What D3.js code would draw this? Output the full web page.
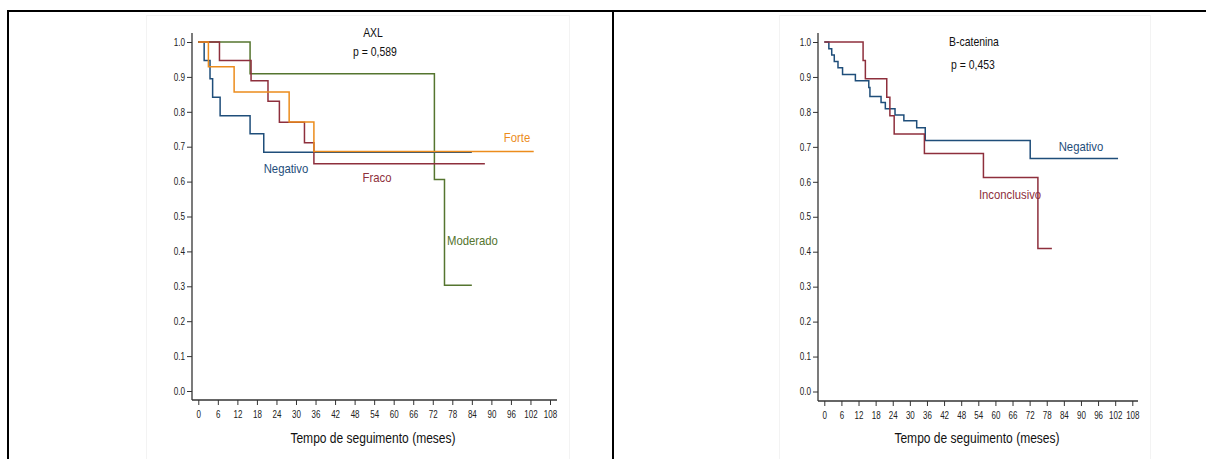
<!DOCTYPE html>
<html>
<head>
<meta charset="utf-8">
<script src="https://cdn.jsdelivr.net/npm/d3@7"></script>
<style>
  html, body { margin: 0; padding: 0; background: #fff; }
  svg { display: block; font-family: "Liberation Sans", Arial, sans-serif; }
</style>
</head>
<body>
<svg id="chart" width="1206" height="459"></svg>
<script>
// Kaplan-Meier step curves: month at which each level begins, and the survival level
const xTicks = d3.range(0, 109, 6);
const yTicks = [0, 0.1, 0.2, 0.3, 0.4, 0.5, 0.6, 0.7, 0.8, 0.9, 1.0];

// AXL panel
const axlNegativoT = [0, 1.8, 3.6, 4.4, 6.7, 15.9, 20.1, 84];
const axlNegativoS = [1.0, 0.947, 0.895, 0.842, 0.789, 0.737, 0.684, 0.684];
const axlForteT = [0, 3.1, 11.0, 27.9, 35.5, 103];
const axlForteS = [1.0, 0.929, 0.857, 0.771, 0.686, 0.686];
const axlFracoT = [0, 6.5, 16.2, 21.4, 24.9, 32.6, 35.5, 88];
const axlFracoS = [1.0, 0.947, 0.889, 0.830, 0.770, 0.711, 0.651, 0.651];
const axlModeradoT = [0, 15.9, 72.5, 75.6, 84];
const axlModeradoS = [1.0, 0.909, 0.606, 0.303, 0.303];

// B-catenina panel
const bcatNegativoT = [0, 1.6, 2.6, 3.5, 4.8, 6.4, 10.9, 15.6, 16.0, 19.9, 21.4, 24.8, 27.9, 32.4, 35.4, 72.2, 103];
const bcatNegativoS = [1.0, 0.981, 0.963, 0.944, 0.926, 0.907, 0.889, 0.870, 0.844, 0.827, 0.809, 0.791, 0.775, 0.755, 0.718, 0.667, 0.667];
const bcatInconclusivoT = [0, 13.6, 14.4, 21.9, 23.0, 24.5, 35.1, 55.8, 74.9, 79.8];
const bcatInconclusivoS = [1.0, 0.947, 0.895, 0.842, 0.789, 0.737, 0.681, 0.612, 0.409, 0.409];

const navy = "#1f4e7a", maroon = "#8e2f3c", green = "#55752f", orange = "#ec8c1c";
const SQUEEZE = 0.87; // narrow lettering

const svg = d3.select("#chart");

// table frame
svg.append("rect").attr("x", 7).attr("y", 10).attr("width", 1199).attr("height", 2).attr("fill", "#000");
svg.append("rect").attr("x", 7).attr("y", 10).attr("width", 2).attr("height", 449).attr("fill", "#000");
svg.append("rect").attr("x", 612).attr("y", 10).attr("width", 2).attr("height", 449).attr("fill", "#000");

function label(g, txt, x, y, size, color, anchor, sx) {
  return g.append("text")
    .attr("transform", `translate(${x},${y}) scale(${sx || SQUEEZE},1)`)
    .attr("text-anchor", anchor || "middle")
    .style("font-size", size + "px").attr("fill", color).text(txt);
}

function panel(cfg) {
  const g = svg.append("g");
  g.append("rect").attr("x", cfg.frame[0] + 0.5).attr("y", 15.5)
    .attr("width", cfg.frame[1] - cfg.frame[0]).attr("height", 460)
    .attr("fill", "none").attr("stroke", "#f3f3f3");

  const x = d3.scaleLinear().domain([0, 108]).range(cfg.xr);
  const y = d3.scaleLinear().domain([0, 1]).range([cfg.y0, cfg.y1]);

  // axis lines
  g.append("line").attr("x1", cfg.ax).attr("x2", cfg.ax).attr("y1", 33).attr("y2", cfg.xaxY)
    .attr("stroke", "#333").attr("stroke-width", 1.3);
  g.append("line").attr("x1", cfg.ax).attr("x2", cfg.xEnd).attr("y1", cfg.xaxY).attr("y2", cfg.xaxY)
    .attr("stroke", "#333").attr("stroke-width", 1.3);

  const ya = g.append("g").attr("transform", `translate(${cfg.ax},0)`)
    .call(d3.axisLeft(y).tickValues(yTicks).tickFormat(d3.format(".1f")).tickSize(5).tickPadding(2));
  ya.select(".domain").remove();
  ya.selectAll("line").attr("stroke", "#333");
  ya.selectAll("text").attr("fill", "#222").style("font-size", "10px")
    .attr("x", -8.5).attr("transform", "scale(0.82,1)");

  const xa = g.append("g").attr("transform", `translate(0,${cfg.xaxY})`)
    .call(d3.axisBottom(x).tickValues(xTicks).tickSize(5).tickPadding(6));
  xa.select(".domain").remove();
  xa.selectAll("line").attr("stroke", "#333");
  xa.selectAll("text").attr("fill", "#222").style("font-size", "10px").attr("transform", "scale(0.8,1)");

  label(g, "Tempo de seguimento (meses)", cfg.xLabelX, 443, 14, "#111", "middle", 0.86);
  label(g, cfg.title, cfg.titleX, cfg.titleY, 12, "#111");
  label(g, cfg.p, cfg.pX, cfg.pY, 12, "#111");

  const line = d3.line().x(d => x(d[0])).y(d => y(d[1])).curve(d3.curveStepAfter);
  cfg.series.forEach(s => {
    const pts = s.t.map((t, i) => [t, s.s[i]]);
    g.append("path").attr("d", line(pts)).attr("fill", "none")
      .attr("stroke", s.color).attr("stroke-width", 1.5);
    label(g, s.name, s.lx, s.ly, 13, s.color, s.anchor);
  });
}

panel({
  frame: [146, 569], xr: [198.3, 550], y0: 391, y1: 42, ax: 192, xEnd: 557, xaxY: 400,
  xLabelX: 373, title: "AXL", titleX: 373, titleY: 37, p: "p = 0,589", pX: 375, pY: 56,
  series: [
    { name: "Moderado", t: axlModeradoT, s: axlModeradoS, color: green, lx: 447, ly: 245, anchor: "start" },
    { name: "Negativo", t: axlNegativoT, s: axlNegativoS, color: navy, lx: 286, ly: 173 },
    { name: "Fraco", t: axlFracoT, s: axlFracoS, color: maroon, lx: 377, ly: 182 },
    { name: "Forte", t: axlForteT, s: axlForteS, color: orange, lx: 517, ly: 142 }
  ]
});

panel({
  frame: [779, 1150], xr: [824.3, 1132.3], y0: 391.5, y1: 42, ax: 818, xEnd: 1138, xaxY: 401,
  xLabelX: 977, title: "B-catenina", titleX: 974, titleY: 46, p: "p = 0,453", pX: 973, pY: 69,
  series: [
    { name: "Negativo", t: bcatNegativoT, s: bcatNegativoS, color: navy, lx: 1081, ly: 151 },
    { name: "Inconclusivo", t: bcatInconclusivoT, s: bcatInconclusivoS, color: maroon, lx: 1010, ly: 199 }
  ]
});
</script>
</body>
</html>
